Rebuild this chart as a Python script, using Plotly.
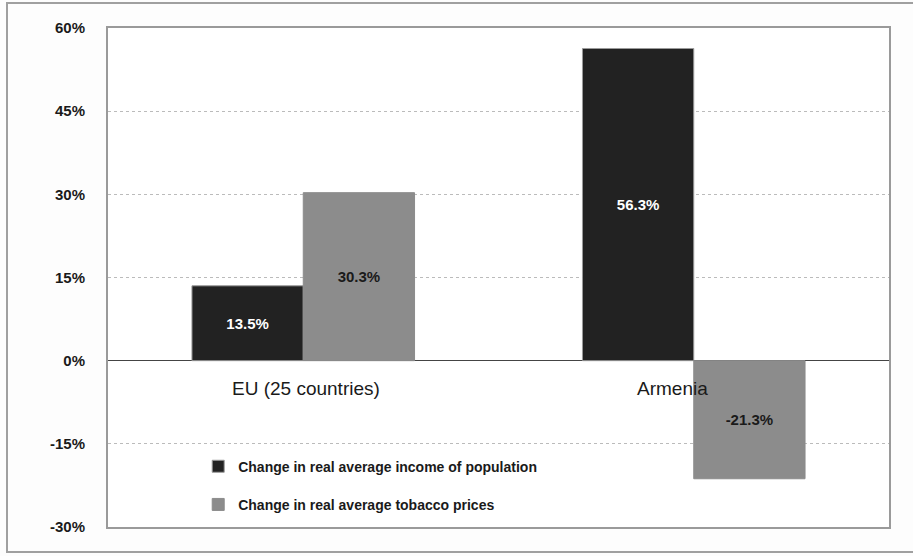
import plotly.graph_objects as go

categories = ["EU (25 countries)", "Armenia"]
income_change = [13.5, 56.3]
tobacco_change = [30.3, -21.3]
series_names = ["Change in real average income of population",
                "Change in real average tobacco prices"]
tick_vals = [-30, -15, 0, 15, 30, 45, 60]
tick_text = ["-30%", "-15%", "0%", "15%", "30%", "45%", "60%"]
label_shift = [3, -21]

FONT = "Liberation Sans, Arial, sans-serif"

fig = go.Figure()
fig.add_trace(go.Bar(
    x=categories, y=income_change, name=series_names[0], legendgroup="a",
    marker=dict(color="#222222", line=dict(color="#9a9a9a", width=1)),
    text=[f"{v:.1f}%" for v in income_change], textposition="inside",
    insidetextanchor="middle", textangle=0,
    textfont=dict(family=FONT, size=15, color="white", weight="bold"),
))
fig.add_trace(go.Bar(
    x=categories, y=tobacco_change, name=series_names[1], legendgroup="b",
    marker=dict(color="#8c8c8c", line=dict(color="#8c8c8c", width=1)),
    text=[f"{v:.1f}%" for v in tobacco_change], textposition="inside",
    insidetextanchor="middle", textangle=0,
    textfont=dict(family=FONT, size=15, color="#1a1a1a", weight="bold"),
))

for c, s in zip(categories, label_shift):
    fig.add_annotation(x=c, y=-5, text=c, showarrow=False, xref="x", yref="y",
                       xshift=s, font=dict(family=FONT, size=19, color="#1a1a1a"))

# outer frame
fig.add_shape(type="rect", xref="paper", yref="paper",
              x0=(7 - 108) / 781, x1=1.2, y0=-(552 - 527) / 499, y1=1 + 25 / 499,
              line=dict(color="#a0a0a0", width=2), fillcolor="rgba(0,0,0,0)", layer="below")

fig.update_layout(
    width=913, height=556,
    margin=dict(l=108, r=24, t=28, b=29),
    paper_bgcolor="#fdfdfd", plot_bgcolor="#ffffff",
    barmode="group", bargap=0.43, bargroupgap=0,
    showlegend=True,
    legend=dict(x=0.1155, y=0.153, xanchor="left", yanchor="top",
                bgcolor="rgba(0,0,0,0)", traceorder="grouped", tracegroupgap=17,
                font=dict(family=FONT, size=14, color="#1a1a1a", weight="bold"),
                itemwidth=30),
    xaxis=dict(showticklabels=False, showgrid=False, zeroline=False,
               showline=True, mirror=True, linecolor="#9a9a9a", linewidth=2),
    yaxis=dict(range=[-30, 60], tickvals=tick_vals, ticktext=tick_text,
               showgrid=True, gridcolor="#bbbbbb", griddash="dot", gridwidth=1,
               zeroline=True, zerolinecolor="#444444", zerolinewidth=1,
               showline=True, mirror=True, linecolor="#9a9a9a", linewidth=2,
               ticks="", ticklabelstandoff=18,
               tickfont=dict(family=FONT, size=15, color="#1a1a1a", weight="bold")),
)

fig.write_html("out.html")
